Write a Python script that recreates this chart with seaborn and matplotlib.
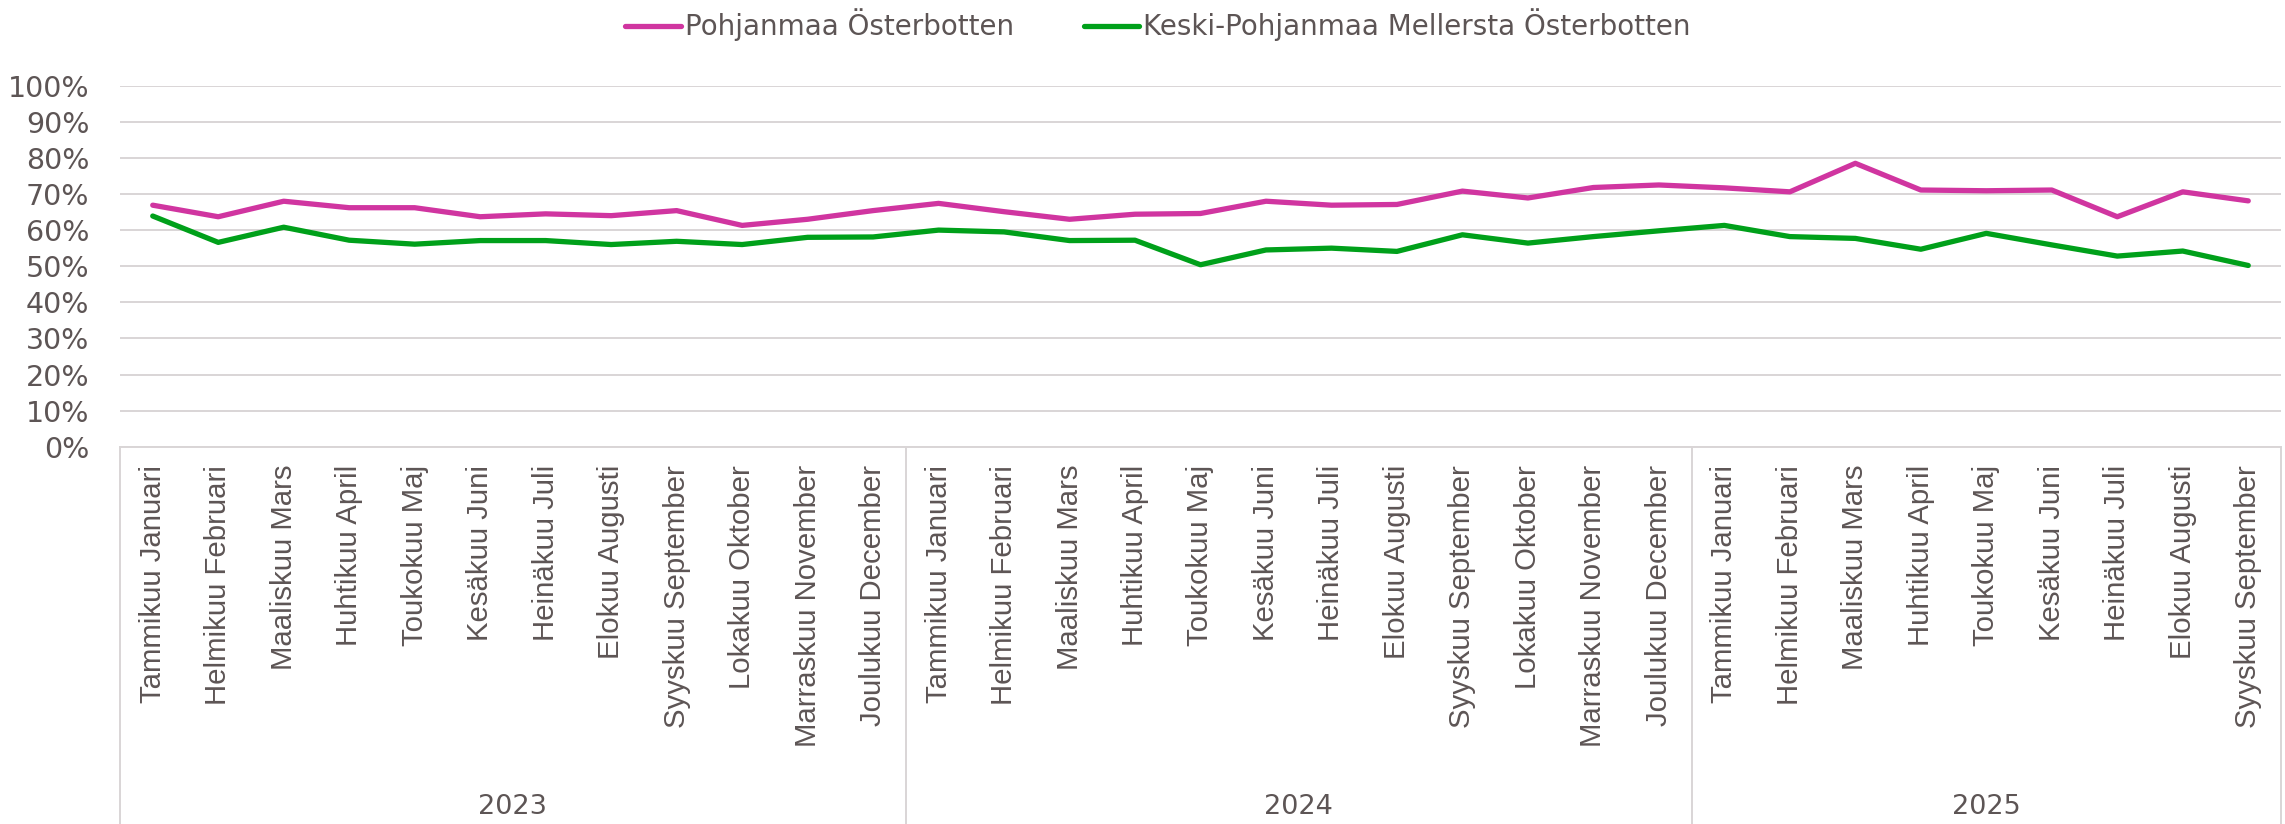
import matplotlib
matplotlib.use("Agg")
import matplotlib.pyplot as plt
import matplotlib.transforms as mtransforms
import seaborn as sns
import pandas as pd
import numpy as np

years = ["2023", "2024", "2025"]
months_2023 = ["Tammikuu Januari", "Helmikuu Februari", "Maaliskuu Mars", "Huhtikuu April",
               "Toukokuu Maj", "Kesäkuu Juni", "Heinäkuu Juli", "Elokuu Augusti",
               "Syyskuu September", "Lokakuu Oktober", "Marraskuu November", "Joulukuu December"]
months_2024 = list(months_2023)
months_2025 = months_2023[:9]
month_labels = months_2023 + months_2024 + months_2025
year_counts = [len(months_2023), len(months_2024), len(months_2025)]

series_names = ["Pohjanmaa Österbotten", "Keski-Pohjanmaa Mellersta Österbotten"]
pohjanmaa = [66.9, 63.7, 68.0, 66.2, 66.2, 63.7, 64.5, 64.0, 65.4, 61.3, 63.0, 65.4,
             67.4, 65.1, 63.0, 64.4, 64.6, 68.0, 66.9, 67.1, 70.8, 68.9, 71.8, 72.5,
             71.7, 70.6, 78.5, 71.1, 70.9, 71.1, 63.7, 70.6, 68.1]
keski = [63.9, 56.6, 60.8, 57.2, 56.1, 57.1, 57.1, 56.0, 56.9, 56.0, 58.0, 58.1,
         60.0, 59.5, 57.1, 57.2, 50.4, 54.5, 55.0, 54.1, 58.7, 56.4, 58.2, 59.8,
         61.3, 58.2, 57.7, 54.7, 59.1, 55.9, 52.8, 54.2, 50.2]
colors = ["#D035A0", "#00A01A"]

text_color = "#5D5555"
grid_color = "#D9D5D6"

n = len(month_labels)
df = pd.DataFrame({
    "idx": list(range(n)) * 2,
    "value": [v / 100 for v in pohjanmaa] + [v / 100 for v in keski],
    "series": [series_names[0]] * n + [series_names[1]] * n,
})

sns.set_theme(style="white")
plt.rcParams["font.family"] = ["DejaVu Sans"]

W, H = 2285, 824
fig = plt.figure(figsize=(W / 100, H / 100), dpi=100)
left, right, top, bottom = 120, 2281, 85.7, 446.7
ax = fig.add_axes([left / W, 1 - bottom / H, (right - left) / W, (bottom - top) / H])

sns.lineplot(data=df, x="idx", y="value", hue="series", palette=colors,
             hue_order=series_names, linewidth=3.8, sort=False, ax=ax,
             legend=True)

ax.set_xlim(-0.5, n - 0.5)
ax.set_ylim(0, 1)
yt = np.arange(0, 1.01, 0.1)
ax.set_yticks(yt)
ax.set_yticklabels([f"{int(round(v*100))}%" for v in yt], color=text_color, fontsize=20.5)
ax.tick_params(axis="y", length=0, pad=22)
ax.yaxis.grid(True, color=grid_color, linewidth=1.4)
ax.set_axisbelow(True)
for s in ["left", "right", "top"]:
    ax.spines[s].set_visible(False)
ax.spines["bottom"].set_color(grid_color)
ax.spines["bottom"].set_linewidth(1.4)

ax.set_xticks(range(n))
ax.set_xticklabels(month_labels, rotation=90, ha="center", va="top",
                   fontsize=21.2, color=text_color, family=["Liberation Sans"])
ax.tick_params(axis="x", length=0, pad=13)
ax.set_xlabel("")
ax.set_ylabel("")

# group separators and year labels
trans = mtransforms.blended_transform_factory(ax.transData, ax.transAxes)
ax_h = bottom - top
y_bottom = -(H - bottom) / ax_h
bounds = [-0.5]
for c in year_counts:
    bounds.append(bounds[-1] + c)
for b in bounds:
    ax.plot([b, b], [0, y_bottom], transform=trans, color=grid_color,
            linewidth=1.4, clip_on=False)
y_year = -(807 - bottom) / ax_h
for i, yr in enumerate(years):
    cx = (bounds[i] + bounds[i + 1]) / 2
    ax.text(cx, y_year, yr, transform=trans, ha="center", va="center",
            fontsize=19.5, color=text_color)

handles, labels = ax.get_legend_handles_labels()
if ax.legend_:
    ax.legend_.remove()
for h in handles:
    h.set_linewidth(3.8)
leg = fig.legend(handles, labels, loc="center", bbox_to_anchor=(1158 / W, 1 - 25 / H),
                 ncol=2, frameon=False, fontsize=20, handlelength=2.0,
                 handletextpad=0.15, columnspacing=2.5)
for t in leg.get_texts():
    t.set_color(text_color)

fig.savefig("out.png", dpi=100)
